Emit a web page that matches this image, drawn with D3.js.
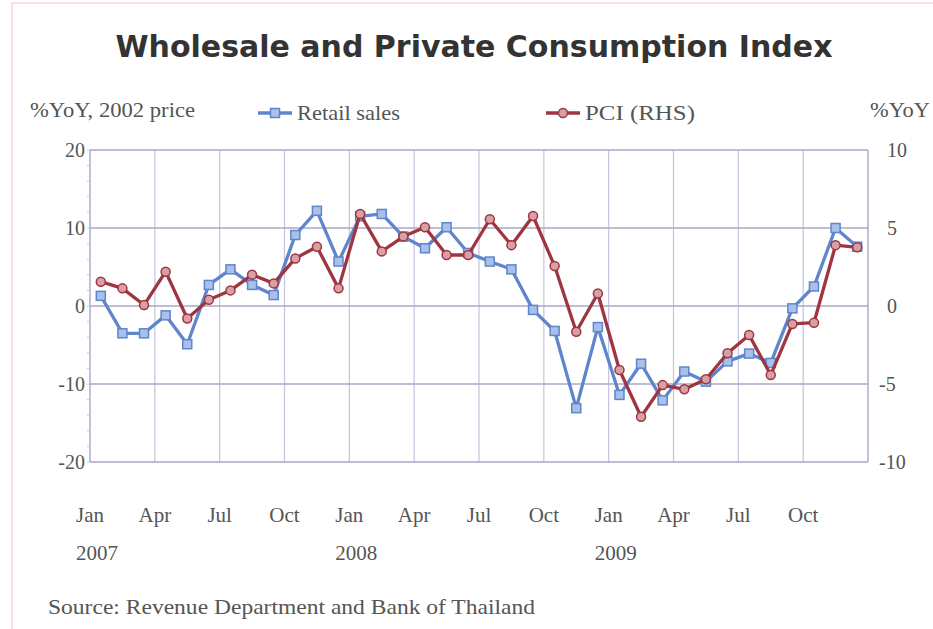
<!DOCTYPE html>
<html>
<head>
<meta charset="utf-8">
<script src="https://cdn.jsdelivr.net/npm/d3@7"></script>
<style>
  html, body { margin: 0; padding: 0; background: #fff; }
  svg { display: block; }
</style>
</head>
<body>
<svg id="chart" width="933" height="629"></svg>
<script>
// ---- data ----
const months = ["Jan","Feb","Mar","Apr","May","Jun","Jul","Aug","Sep","Oct","Nov","Dec"];
const years = ["2007","2008","2009"];
const retailSales = [
  1.3, -3.5, -3.5, -1.2, -4.9, 2.7, 4.7, 2.7, 1.4, 9.1, 12.2, 5.7,
  11.5, 11.8, 8.9, 7.4, 10.1, 6.8, 5.7, 4.7, -0.5, -3.2, -13.1, -2.7,
  -11.4, -7.4, -12.1, -8.4, -9.7, -7.1, -6.1, -7.3, -0.3, 2.5, 10.0, 7.6
];
const pci = [
  1.56, 1.13, 0.06, 2.2, -0.8, 0.4, 1.0, 2.0, 1.45, 3.05, 3.8, 1.13,
  5.9, 3.5, 4.45, 5.05, 3.27, 3.27, 5.56, 3.9, 5.77, 2.56, -1.65, 0.8,
  -4.1, -7.1, -5.07, -5.34, -4.7, -3.03, -1.86, -4.42, -1.15, -1.07, 3.9, 3.76
];
const leftTicks = [20, 10, 0, -10, -20];
const rightTicks = [10, 5, 0, -5, -10];
const tickMonths = ["Jan","Apr","Jul","Oct"];

const title = "Wholesale and Private Consumption Index";
const leftTitle = "%YoY, 2002 price";
const rightTitle = "%YoY";
const seriesNames = ["Retail sales", "PCI (RHS)"];
const source = "Source: Revenue Department and Bank of Thailand";

// ---- layout ----
const svg = d3.select("#chart");
const plot = { left: 90, right: 868, top: 150, bottom: 462 };
const serif = "'Liberation Serif', 'DejaVu Serif', serif";
const textCol = "#555";
const gridCol = "#c4c4e0";
const hGridCol = "#a8a8c4";
const blue = "#5f85cc";
const red = "#9e3540";

// frame
svg.append("rect").attr("x", 12).attr("y", 3).attr("width", 925).attr("height", 640)
  .attr("fill", "none").attr("stroke", "#f4d8de").attr("stroke-width", 1.5);

const dates = [];
years.forEach(y => months.forEach(m => dates.push(m + " " + y)));

const x = d3.scaleBand().domain(dates).range([plot.left, plot.right]).paddingInner(0).paddingOuter(0);
const yL = d3.scaleLinear().domain([-20, 20]).range([plot.bottom, plot.top]);
const yR = d3.scaleLinear().domain([-10, 10]).range([plot.bottom, plot.top]);

// vertical gridlines at quarter boundaries
const quarterDates = dates.filter(d => tickMonths.includes(d.split(" ")[0]));
svg.append("g").selectAll("line").data(quarterDates.slice(1)).join("line")
  .attr("x1", d => x(d)).attr("x2", d => x(d))
  .attr("y1", plot.top).attr("y2", plot.bottom)
  .attr("stroke", gridCol).attr("stroke-width", 1.2);

// horizontal gridlines
svg.append("g").selectAll("line").data(leftTicks).join("line")
  .attr("x1", plot.left).attr("x2", plot.right)
  .attr("y1", d => yL(d)).attr("y2", d => yL(d))
  .attr("stroke", hGridCol).attr("stroke-width", 1.6);

// plot border sides
svg.append("line").attr("x1", plot.left).attr("x2", plot.left).attr("y1", plot.top).attr("y2", plot.bottom)
  .attr("stroke", hGridCol).attr("stroke-width", 1.4);
svg.append("line").attr("x1", plot.right).attr("x2", plot.right).attr("y1", plot.top).attr("y2", plot.bottom)
  .attr("stroke", hGridCol).attr("stroke-width", 1.4);

// minor ticks on left axis
const minor = d3.range(-20, 20.01, 2);
svg.append("g").selectAll("line").data(minor).join("line")
  .attr("x1", plot.left - 3).attr("x2", plot.left)
  .attr("y1", d => yL(d)).attr("y2", d => yL(d))
  .attr("stroke", "#c8c8dc").attr("stroke-width", 1);

// left axis labels
svg.append("g").selectAll("text").data(leftTicks).join("text")
  .attr("x", 85).attr("y", d => yL(d)).attr("dy", "0.35em")
  .attr("text-anchor", "end").attr("font-family", serif).attr("font-size", 20)
  .attr("fill", textCol).text(d => d);

// right axis labels
svg.append("g").selectAll("text").data(rightTicks).join("text")
  .attr("x", d => d < 0 ? 879 : 887).attr("y", d => yR(d)).attr("dy", "0.35em")
  .attr("text-anchor", "start").attr("font-family", serif).attr("font-size", 20)
  .attr("fill", textCol).text(d => d);

// x labels
svg.append("g").selectAll("text").data(quarterDates).join("text")
  .attr("x", d => x(d)).attr("y", 522)
  .attr("text-anchor", "middle").attr("font-family", serif).attr("font-size", 21)
  .attr("fill", textCol).text(d => d.split(" ")[0]);
svg.append("g").selectAll("text").data(years).join("text")
  .attr("x", d => x("Jan " + d) + 7).attr("y", 560)
  .attr("text-anchor", "middle").attr("font-family", serif).attr("font-size", 21)
  .attr("fill", textCol).text(d => d);

// title
svg.append("text").attr("x", 474).attr("y", 57).attr("text-anchor", "middle")
  .attr("font-family", "'DejaVu Sans', Verdana, sans-serif").attr("font-weight", "bold")
  .attr("font-size", 30).attr("fill", "#333").text(title);

// axis titles
svg.append("text").attr("x", 30).attr("y", 117).attr("font-family", serif).attr("font-size", 21)
  .attr("textLength", 165).attr("lengthAdjust", "spacingAndGlyphs")
  .attr("fill", textCol).text(leftTitle);
svg.append("text").attr("x", 870).attr("y", 117).attr("font-family", serif).attr("font-size", 21)
  .attr("textLength", 60).attr("lengthAdjust", "spacingAndGlyphs")
  .attr("fill", textCol).text(rightTitle);

// series
const cx = d => x(d) + x.bandwidth() / 2;
const lineL = d3.line().x((d, i) => cx(dates[i])).y(d => yL(d));
const lineR = d3.line().x((d, i) => cx(dates[i])).y(d => yR(d));

svg.append("path").datum(retailSales).attr("d", lineL)
  .attr("fill", "none").attr("stroke", blue).attr("stroke-width", 3.3).attr("stroke-linejoin", "round");
svg.append("g").selectAll("rect").data(retailSales).join("rect")
  .attr("x", (d, i) => cx(dates[i]) - 4.5).attr("y", d => yL(d) - 4.5)
  .attr("width", 9).attr("height", 9)
  .attr("fill", "#a9c0ea").attr("stroke", blue).attr("stroke-width", 1.5);

svg.append("path").datum(pci).attr("d", lineR)
  .attr("fill", "none").attr("stroke", red).attr("stroke-width", 3.3).attr("stroke-linejoin", "round");
svg.append("g").selectAll("circle").data(pci).join("circle")
  .attr("cx", (d, i) => cx(dates[i])).attr("cy", d => yR(d)).attr("r", 4.5)
  .attr("fill", "#d7a0a4").attr("stroke", red).attr("stroke-width", 1.5);

// legend
const legY = 113;
const legend = [
  { name: seriesNames[0], x: 258, col: blue, fill: "#a9c0ea", shape: "rect", w: 103 },
  { name: seriesNames[1], x: 546, col: red, fill: "#d7a0a4", shape: "circle", w: 110 }
];
legend.forEach(l => {
  svg.append("line").attr("x1", l.x).attr("x2", l.x + 34).attr("y1", legY).attr("y2", legY)
    .attr("stroke", l.col).attr("stroke-width", 3.5);
  if (l.shape === "rect") {
    svg.append("rect").attr("x", l.x + 17 - 4.5).attr("y", legY - 4.5).attr("width", 9).attr("height", 9)
      .attr("fill", l.fill).attr("stroke", l.col).attr("stroke-width", 1.5);
  } else {
    svg.append("circle").attr("cx", l.x + 17).attr("cy", legY).attr("r", 4.5)
      .attr("fill", l.fill).attr("stroke", l.col).attr("stroke-width", 1.5);
  }
  svg.append("text").attr("x", l.x + 39).attr("y", legY + 7).attr("font-family", serif).attr("font-size", 21)
    .attr("textLength", l.w).attr("lengthAdjust", "spacingAndGlyphs")
    .attr("fill", textCol).text(l.name);
});

// source
svg.append("text").attr("x", 48).attr("y", 614).attr("font-family", serif).attr("font-size", 21)
  .attr("textLength", 487).attr("lengthAdjust", "spacingAndGlyphs")
  .attr("fill", textCol).text(source);
</script>
</body>
</html>
